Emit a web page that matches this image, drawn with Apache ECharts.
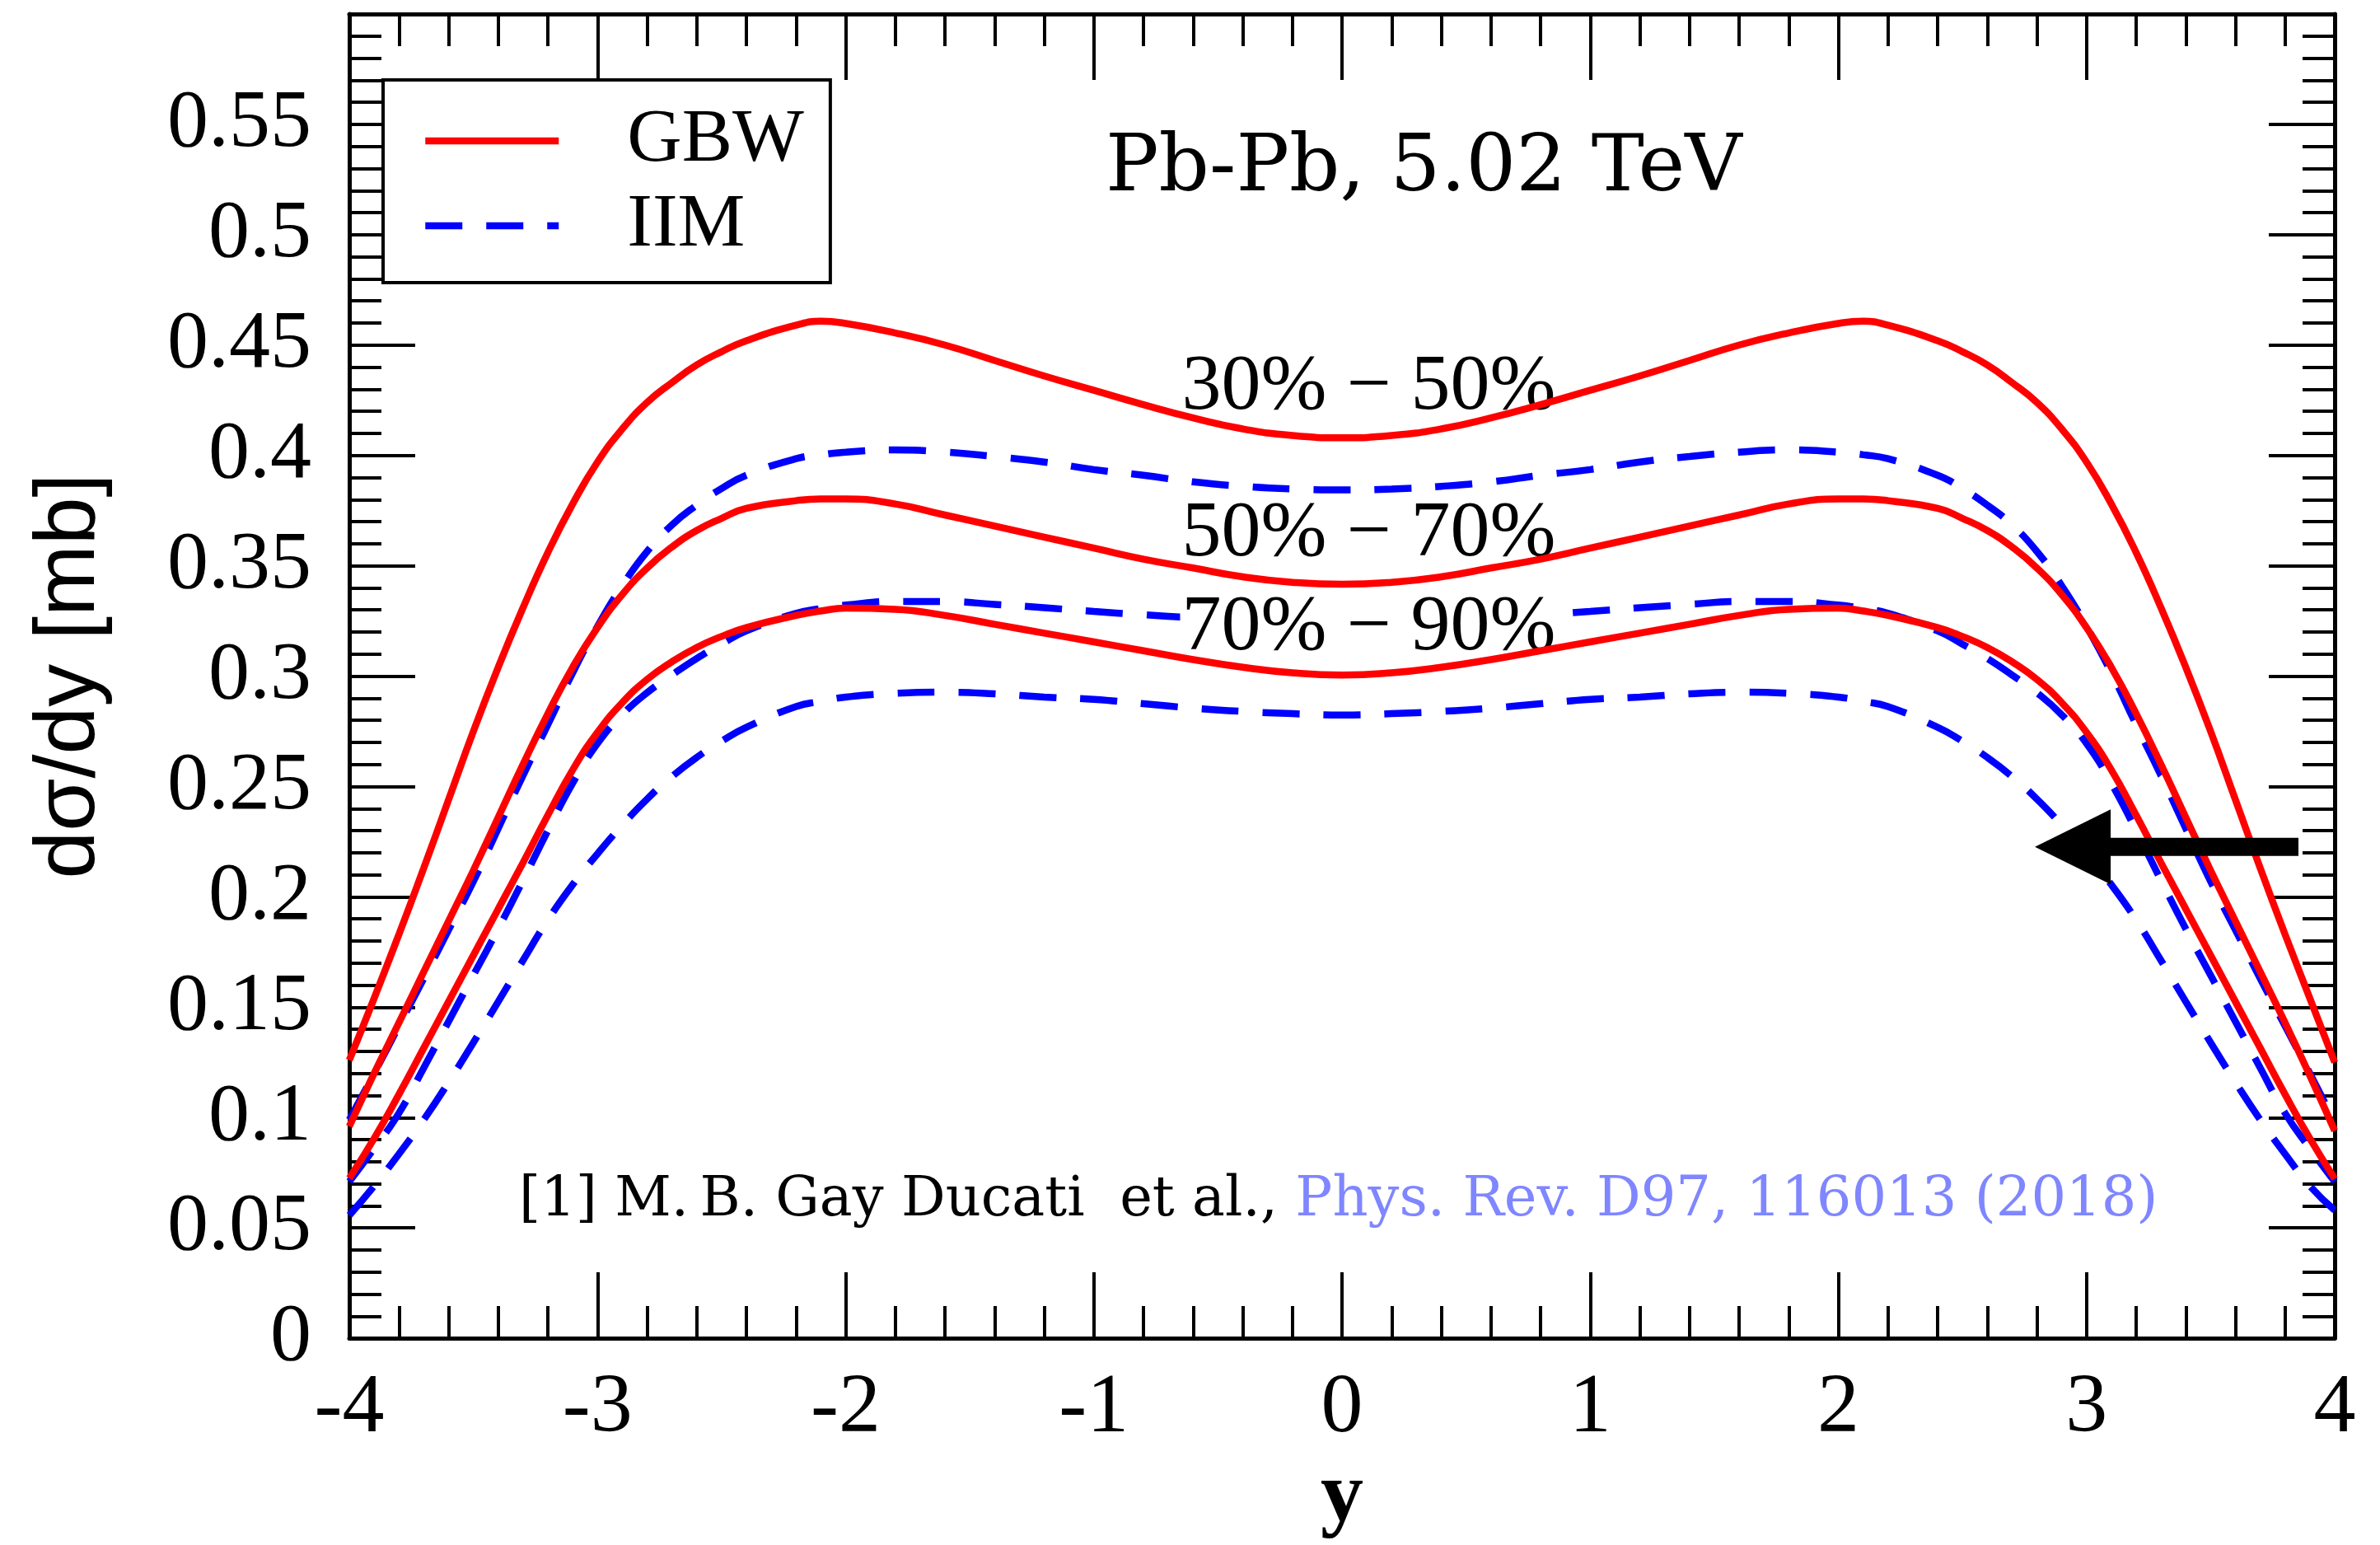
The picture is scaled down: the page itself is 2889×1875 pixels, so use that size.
<!DOCTYPE html>
<html>
<head>
<meta charset="utf-8">
<script src="https://cdn.jsdelivr.net/npm/echarts@6/dist/echarts.min.js"></script>
<style>
  html, body { margin: 0; padding: 0; background: #fff; }
  #chart { width: 2889px; height: 1875px; }
</style>
</head>
<body>
<div id="chart"></div>
<script>
// Rapidity grid (y) shared by all curves
const rapidity = [-4.0, -3.9, -3.8, -3.7, -3.6, -3.5, -3.4, -3.3, -3.2, -3.1, -3.0, -2.9, -2.8, -2.7, -2.6, -2.5, -2.4,
  -2.2, -2.1, -2.0, -1.8, -1.6, -1.4, -1.2, -1.0, -0.8, -0.6, -0.4, -0.2, 0.0, 0.2, 0.4, 0.6, 0.8, 1.0, 1.2, 1.4, 1.6, 1.8, 2.0, 2.1, 2.2,
  2.4, 2.5, 2.6, 2.7, 2.8, 2.9, 3.0, 3.1, 3.2, 3.3, 3.4, 3.5, 3.6, 3.7, 3.8, 3.9, 4.0];

// dσ/dy [mb], GBW model
const gbw3050 = [0.126, 0.154, 0.183, 0.213, 0.244, 0.275, 0.304, 0.331, 0.356, 0.378, 0.397, 0.412, 0.424, 0.433, 0.441, 0.447, 0.452,
  0.459, 0.4608, 0.4598, 0.4555, 0.450, 0.443, 0.436, 0.4295, 0.423, 0.417, 0.412, 0.409, 0.408, 0.409, 0.412, 0.417, 0.423, 0.4295, 0.436, 0.443, 0.450, 0.4555, 0.4598, 0.4608, 0.459,
  0.452, 0.447, 0.441, 0.433, 0.424, 0.412, 0.397, 0.378, 0.356, 0.331, 0.304, 0.275, 0.244, 0.213, 0.183, 0.154, 0.125];
const gbw5070 = [0.096, 0.120, 0.143, 0.166, 0.189, 0.212, 0.236, 0.260, 0.283, 0.304, 0.322, 0.337, 0.349, 0.3585, 0.366, 0.3715, 0.376,
  0.3795, 0.3803, 0.3803, 0.378, 0.373, 0.368, 0.363, 0.358, 0.353, 0.349, 0.345, 0.3425, 0.3416, 0.3425, 0.345, 0.349, 0.353, 0.358, 0.363, 0.368, 0.373, 0.378, 0.3803, 0.3803, 0.3795,
  0.376, 0.3715, 0.366, 0.3585, 0.349, 0.337, 0.322, 0.304, 0.283, 0.260, 0.236, 0.212, 0.189, 0.166, 0.143, 0.119, 0.094];
const gbw7090 = [0.0725, 0.0905, 0.1105, 0.1315, 0.1525, 0.1735, 0.1945, 0.2155, 0.237, 0.2575, 0.2745, 0.288, 0.2985, 0.3065, 0.313, 0.318, 0.322,
  0.3275, 0.3295, 0.3308, 0.3303, 0.3275, 0.3235, 0.3195, 0.3155, 0.3115, 0.3075, 0.304, 0.3015, 0.3005, 0.3015, 0.304, 0.3075, 0.3115, 0.3155, 0.3195, 0.3235, 0.3275, 0.3303, 0.3308, 0.3295, 0.3275,
  0.322, 0.318, 0.313, 0.3065, 0.2985, 0.288, 0.2745, 0.2575, 0.237, 0.2155, 0.1945, 0.1735, 0.1525, 0.1315, 0.1105, 0.0905, 0.0723];

// dσ/dy [mb], IIM model
const iim3050 = [0.099, 0.120, 0.1415, 0.163, 0.185, 0.207, 0.231, 0.255, 0.278, 0.3015, 0.3225, 0.341, 0.3565, 0.3685, 0.3775, 0.385, 0.391,
  0.3985, 0.4003, 0.4015, 0.4025, 0.4015, 0.3995, 0.397, 0.3936, 0.391, 0.388, 0.386, 0.3848, 0.3844, 0.3848, 0.386, 0.388, 0.391, 0.3936, 0.397, 0.3995, 0.4015, 0.4025, 0.4015, 0.4003, 0.3985,
  0.391, 0.385, 0.3775, 0.3685, 0.3565, 0.341, 0.3225, 0.3015, 0.278, 0.255, 0.231, 0.207, 0.185, 0.163, 0.1415, 0.120, 0.098];
const iim5070 = [0.071, 0.086, 0.102, 0.1225, 0.1435, 0.1645, 0.1855, 0.2075, 0.230, 0.2515, 0.2695, 0.2825, 0.2925, 0.3005, 0.308, 0.3145, 0.3205,
  0.3285, 0.3306, 0.3322, 0.3338, 0.3338, 0.3325, 0.331, 0.3293, 0.3278, 0.3265, 0.3255, 0.325, 0.3248, 0.325, 0.3255, 0.3265, 0.3278, 0.3293, 0.331, 0.3325, 0.3338, 0.3338, 0.3322, 0.3306, 0.3285,
  0.3205, 0.3145, 0.308, 0.3005, 0.2925, 0.2825, 0.2695, 0.2515, 0.230, 0.2075, 0.1855, 0.1645, 0.1435, 0.1225, 0.102, 0.086, 0.071];
const iim7090 = [0.0557, 0.069, 0.0835, 0.099, 0.116, 0.134, 0.1525, 0.1712, 0.1895, 0.2055, 0.2195, 0.2325, 0.2443, 0.2545, 0.2632, 0.2705, 0.2768,
  0.2862, 0.2886, 0.2905, 0.2922, 0.2927, 0.292, 0.2905, 0.2895, 0.2875, 0.2855, 0.284, 0.283, 0.2824, 0.283, 0.284, 0.2855, 0.2875, 0.2895, 0.2905, 0.292, 0.2927, 0.2922, 0.2905, 0.2886, 0.2862,
  0.2768, 0.2705, 0.2632, 0.2545, 0.2443, 0.2325, 0.2195, 0.2055, 0.1895, 0.1712, 0.1525, 0.134, 0.116, 0.099, 0.0835, 0.069, 0.058];

// Centrality class labels and where they sit (y, dσ/dy)
const centralityNames = ['30% \u2212 50%', '50% \u2212 70%', '70% \u2212 90%'];
const centralityAt = [[0.108, 0.4307], [0.108, 0.3641], [0.108, 0.3216]];

// Arrow: tail and tip in data coordinates
const arrowTail = [3.854, 0.2226];
const arrowTip = [2.792, 0.2226];

const RED = '#ff0000';
const BLUE = '#0000ff';
const DASH = [45, 29];

function curve(name, values, color, dashed, z) {
  return {
    type: 'line',
    name: name,
    data: rapidity.map((x, i) => [x, values[i]]),
    xAxisIndex: 0,
    yAxisIndex: 0,
    symbol: 'none',
    smooth: 0.5,
    z: z,
    silent: true,
    lineStyle: { color: color, width: 8.5, type: dashed ? DASH : 'solid' },
    itemStyle: { color: color },
    emphasis: { disabled: true }
  };
}

const frameAxis = {
  type: 'value',
  axisLine: { show: true, onZero: false, lineStyle: { color: '#000', width: 5 } },
  axisTick: { show: true, inside: true, length: 80, lineStyle: { color: '#000', width: 4 } },
  minorTick: { show: true, splitNumber: 5, length: 39, lineStyle: { color: '#000', width: 4 } },
  splitLine: { show: false },
  minorSplitLine: { show: false }
};

const chart = echarts.init(document.getElementById('chart'), null, { renderer: 'canvas' });

chart.setOption({
  animation: false,
  backgroundColor: '#fff',
  grid: { left: 424, right: 55, top: 17, bottom: 235, containLabel: false },
  title: [
    {
      text: 'Pb-Pb, 5.02 TeV',
      left: 1342, top: 158, padding: 0,
      textStyle: { fontFamily: 'DejaVu Serif', fontSize: 96, fontWeight: 'normal', color: '#000' }
    },
    {
      text: '{a|[1] M.\u2009B. Gay Ducati  et al., }{b|Phys. Rev. D97, 116013 (2018)}',
      left: 630, top: 1424, padding: 0,
      textStyle: {
        fontWeight: 'normal',
        rich: {
          a: { fontFamily: 'DejaVu Serif', fontSize: 67, fontWeight: 'normal', color: '#000' },
          b: { fontFamily: 'DejaVu Serif', fontSize: 67, fontWeight: 'normal', color: '#7f86ff' }
        }
      }
    }
  ],
  legend: {
    data: ['GBW', 'IIM'],
    orient: 'vertical',
    left: 465, top: 97,
    padding: [28, 32, 23, 47],
    itemWidth: 162, itemHeight: 92, itemGap: 11,
    backgroundColor: '#fff',
    borderColor: '#000', borderWidth: 4, borderRadius: 0,
    selectedMode: false,
    z: 10,
    lineStyle: { width: 8.5 },
    itemStyle: { color: 'transparent', borderWidth: 0, opacity: 0 },
    textStyle: { fontFamily: 'Liberation Serif', fontSize: 92, color: '#000', padding: [0, 0, 0, 78] }
  },
  xAxis: [
    Object.assign({}, frameAxis, {
      position: 'bottom', min: -4, max: 4, interval: 1,
      axisLabel: { fontFamily: 'Liberation Serif', fontSize: 102, color: '#000', margin: 35 },
      name: 'y', nameLocation: 'middle', nameGap: 123,
      nameTextStyle: { fontFamily: 'Liberation Serif', fontWeight: 'bold', fontSize: 104, color: '#000' }
    }),
    Object.assign({}, frameAxis, {
      position: 'top', min: -4, max: 4, interval: 1,
      axisLabel: { show: false }
    })
  ],
  yAxis: [
    Object.assign({}, frameAxis, {
      position: 'left', min: 0, max: 0.6, interval: 0.05,
      axisLabel: {
        fontFamily: 'Liberation Serif', fontSize: 100, color: '#000', margin: 46,
        showMaxLabel: false,
        formatter: v => (v === 0 ? '0' : String(+v.toFixed(2)))
      },
      name: 'd\u03c3/dy [mb]', nameLocation: 'middle', nameRotate: 90, nameGap: 287,
      nameTextStyle: { fontFamily: 'Liberation Sans', fontSize: 104, color: '#000' }
    }),
    Object.assign({}, frameAxis, {
      position: 'right', min: 0, max: 0.6, interval: 0.05,
      axisLabel: { show: false }
    })
  ],
  series: [
    curve('IIM', iim3050, BLUE, true, 2),
    curve('IIM', iim5070, BLUE, true, 2),
    curve('IIM', iim7090, BLUE, true, 2),
    {
      type: 'scatter',
      name: 'centrality',
      z: 3,
      silent: true,
      symbolSize: 1,
      itemStyle: { color: 'transparent', opacity: 1 },
      data: centralityNames.map((n, i) => ({ name: n, value: centralityAt[i] })),
      label: {
        show: true, position: 'inside', formatter: '{b}',
        fontFamily: 'Liberation Serif', fontSize: 96, color: '#000', opacity: 1,
        backgroundColor: '#fff', padding: [0, 2]
      },
      labelLayout: { hideOverlap: false },
      emphasis: { disabled: true }
    },
    curve('GBW', gbw3050, RED, false, 4),
    curve('GBW', gbw5070, RED, false, 4),
    curve('GBW', gbw7090, RED, false, 4),
    {
      type: 'custom',
      name: 'arrow',
      z: 5,
      silent: true,
      clip: false,
      data: [[arrowTail[0], arrowTip[0], arrowTip[1]]],
      encode: { x: [0, 1], y: 2 },
      renderItem: function (params, api) {
        const tail = api.coord([api.value(0), api.value(2)]);
        const tip = api.coord([api.value(1), api.value(2)]);
        const headLen = 92, headHalf = 45.5, shaft = 22;
        return {
          type: 'group',
          children: [
            {
              type: 'rect',
              shape: { x: tip[0] + headLen - 1, y: tip[1] - shaft / 2, width: tail[0] - tip[0] - headLen + 1, height: shaft },
              style: { fill: '#000' }
            },
            {
              type: 'polygon',
              shape: { points: [[tip[0], tip[1]], [tip[0] + headLen, tip[1] - headHalf], [tip[0] + headLen, tip[1] + headHalf]] },
              style: { fill: '#000' }
            }
          ]
        };
      }
    }
  ]
});
</script>
</body>
</html>
